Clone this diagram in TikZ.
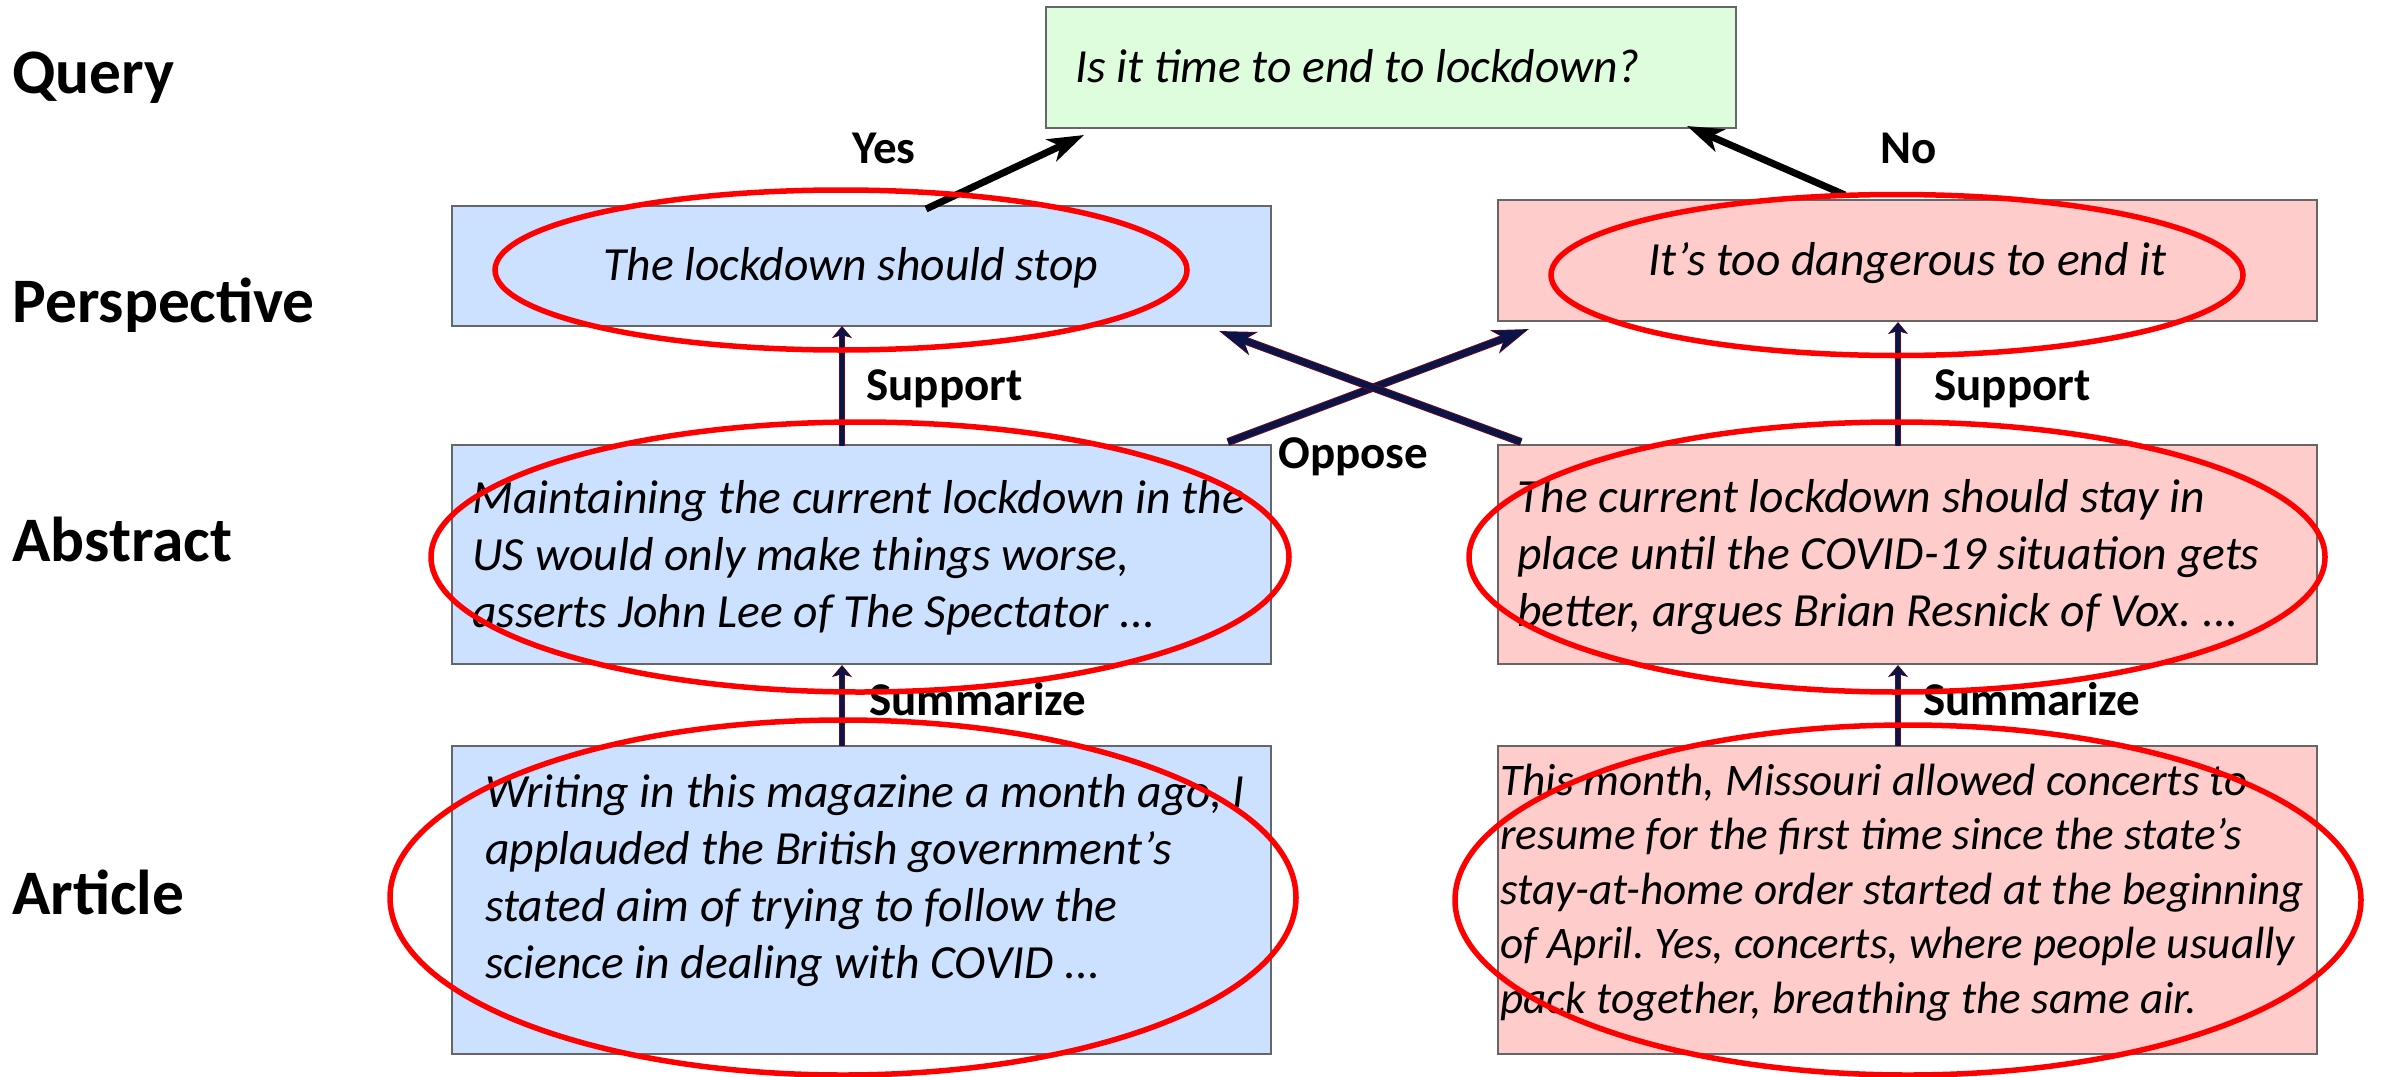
\documentclass[tikz,border=0pt]{standalone}
\usepackage{fontspec}
\setmainfont{Carlito}
\usetikzlibrary{arrows.meta}
\frenchspacing
\definecolor{qgreen}{HTML}{DDFDDD}
\definecolor{pblue}{HTML}{CCE0FF}
\definecolor{ppink}{HTML}{FFCCCC}
\definecolor{bord}{HTML}{666666}
\definecolor{navyc}{HTML}{0A1448}
\definecolor{outl}{HTML}{6A0A14}
\definecolor{ringred}{HTML}{FF0000}
\tikzset{
  box/.style={draw=bord, line width=1pt, inner sep=0pt, rectangle, anchor=center},
  boxtext/.style={font=\itshape\fontsize{23.8pt}{28.5pt}\selectfont, inner sep=0pt, align=left, anchor=base west},
  smalltext/.style={font=\itshape\fontsize{22.6pt}{27.25pt}\selectfont, inner sep=0pt, align=left, anchor=base west},
  rowlabel/.style={font=\bfseries\fontsize{31.7pt}{37pt}\selectfont, inner sep=0pt, anchor=base west},
  edgelabel/.style={font=\bfseries\fontsize{23.5pt}{28pt}\selectfont, inner sep=0pt, anchor=base west},
  ring/.style={draw=ringred, line width=2.75pt},
  answer/.style={draw=black, line width=3.5pt, -{Stealth[length=18pt, width=12pt, inset=5pt]}},
  relout/.style={draw=outl, line width=4pt, -{Stealth[length=18pt, width=12pt, inset=5pt]}},
  relin/.style={draw=navyc, line width=3pt, shorten >=0.8pt, -{Stealth[length=16.5pt, width=10.5pt, inset=4.5pt]}},
  supout/.style={draw=outl, line width=3pt, -{Stealth[length=6pt, width=10pt, inset=1.5pt]}},
  supin/.style={draw=navyc, line width=2pt, shorten >=0.6pt, -{Stealth[length=5pt, width=8.5pt, inset=1.2pt]}},
}
\begin{document}
\begin{tikzpicture}[x=0.5pt, y=-0.5pt]
\useasboundingbox (0,0) rectangle (2382,1076);
\fill[white] (0,0) rectangle (2382,1076);

% boxes
\node[box, fill=qgreen, minimum width=345pt, minimum height=60.5pt] (query) at (1391,67.5) {};
\node[box, fill=pblue, minimum width=409.5pt, minimum height=60pt] (perspL) at (861.5,266) {};
\node[box, fill=ppink, minimum width=409.5pt, minimum height=60.5pt] (perspR) at (1907.5,260.5) {};
\node[box, fill=pblue, minimum width=409.5pt, minimum height=109.5pt] (absL) at (861.5,554.5) {};
\node[box, fill=ppink, minimum width=409.5pt, minimum height=109.5pt] (absR) at (1907.5,554.5) {};
\node[box, fill=pblue, minimum width=409.5pt, minimum height=154pt] (artL) at (861.5,900) {};
\node[box, fill=ppink, minimum width=409.5pt, minimum height=154pt] (artR) at (1907.5,900) {};

% texts in boxes (multi-line nodes: base = baseline of last line)
\node[boxtext] (tquery) at (1075,82) {Is it time to end to lockdown?};
\node[boxtext] (tperspL) at (603,280) {The lockdown should stop};
\node[boxtext] (tperspR) at (1648,275) {It’s too dangerous to end it};
\node[boxtext] (tabsL) at (472,627) {Maintaining the current lockdown in the\\US would only make things worse,\\asserts John Lee of The Spectator ...};
\node[boxtext] (tabsR) at (1517,626) {The current lockdown should stay in\\place until the COVID-19 situation gets\\better, argues Brian Resnick of Vox. ...};
\node[boxtext] (tartL) at (485,978) {Writing in this magazine a month ago, I\\applauded the British government’s\\stated aim of trying to follow the\\science in dealing with COVID ...};
\node[smalltext] (tartR) at (1500,1013) {This month, Missouri allowed concerts to\\resume for the first time since the state’s\\stay-at-home order started at the beginning\\of April. Yes, concerts, where people usually\\pack together, breathing the same air.};

% row labels
\node[rowlabel] (lquery) at (12,93) {Query};
\node[rowlabel] (lpersp) at (12,322) {Perspective};
\node[rowlabel] (labs) at (12,561) {Abstract};
\node[rowlabel] (lart) at (12,914) {Article};

% edge labels
\node[edgelabel] (lyes) at (852,163) {Yes};
\node[edgelabel] (lno) at (1880,163) {No};
\node[edgelabel] (lsupL) at (866,400) {Support};
\node[edgelabel] (lsupR) at (1934,400) {Support};
\node[edgelabel] (lsumL) at (869,715) {Summarize};
\node[edgelabel] (lsumR) at (1923,715) {Summarize};
\node[edgelabel] (lopp) at (1278,468) {Oppose};

% connector end points
\coordinate (yesS) at (926,209);
\coordinate (yesT) at (1084,135);
\coordinate (noS) at (1845,195);
\coordinate (noT) at (1687,126);
\coordinate (supLS) at (842,446);
\coordinate (supLT) at (842,326);
\coordinate (supRS) at (1898,446);
\coordinate (supRT) at (1898,322);
\coordinate (sumLS) at (842,746);
\coordinate (sumLT) at (842,665);
\coordinate (sumRS) at (1898,746);
\coordinate (sumRT) at (1898,665);
\coordinate (opp1S) at (1228,442);
\coordinate (opp1T) at (1529,329);
\coordinate (opp2S) at (1521,442);
\coordinate (opp2T) at (1219,331);

% answer arrows
\draw[answer] (yesS) -- (yesT);
\draw[answer] (noS) -- (noT);

% support / summarize arrows
\foreach \s/\t in {supLS/supLT, supRS/supRT, sumLS/sumLT, sumRS/sumRT}{
  \draw[supout] (\s) -- (\t);
  \draw[supin] (\s) -- (\t);
}
% oppose arrows
\draw[relout] (opp1S) -- (opp1T);
\draw[relin] (opp1S) -- (opp1T);
\draw[relout] (opp2S) -- (opp2T);
\draw[relin] (opp2S) -- (opp2T);

% red rings
\draw[ring] (841,270) ellipse [x radius=173pt, y radius=40pt];
\draw[ring] (1897,275) ellipse [x radius=173pt, y radius=40.25pt];
\draw[ring] (860,557) ellipse [x radius=214.5pt, y radius=67.5pt];
\draw[ring] (1897,557) ellipse [x radius=214pt, y radius=67.5pt];
\draw[ring] (843,897.5) ellipse [x radius=226.5pt, y radius=88.75pt];
\draw[ring] (1908,900) ellipse [x radius=226.5pt, y radius=87.5pt];
\end{tikzpicture}
\end{document}
